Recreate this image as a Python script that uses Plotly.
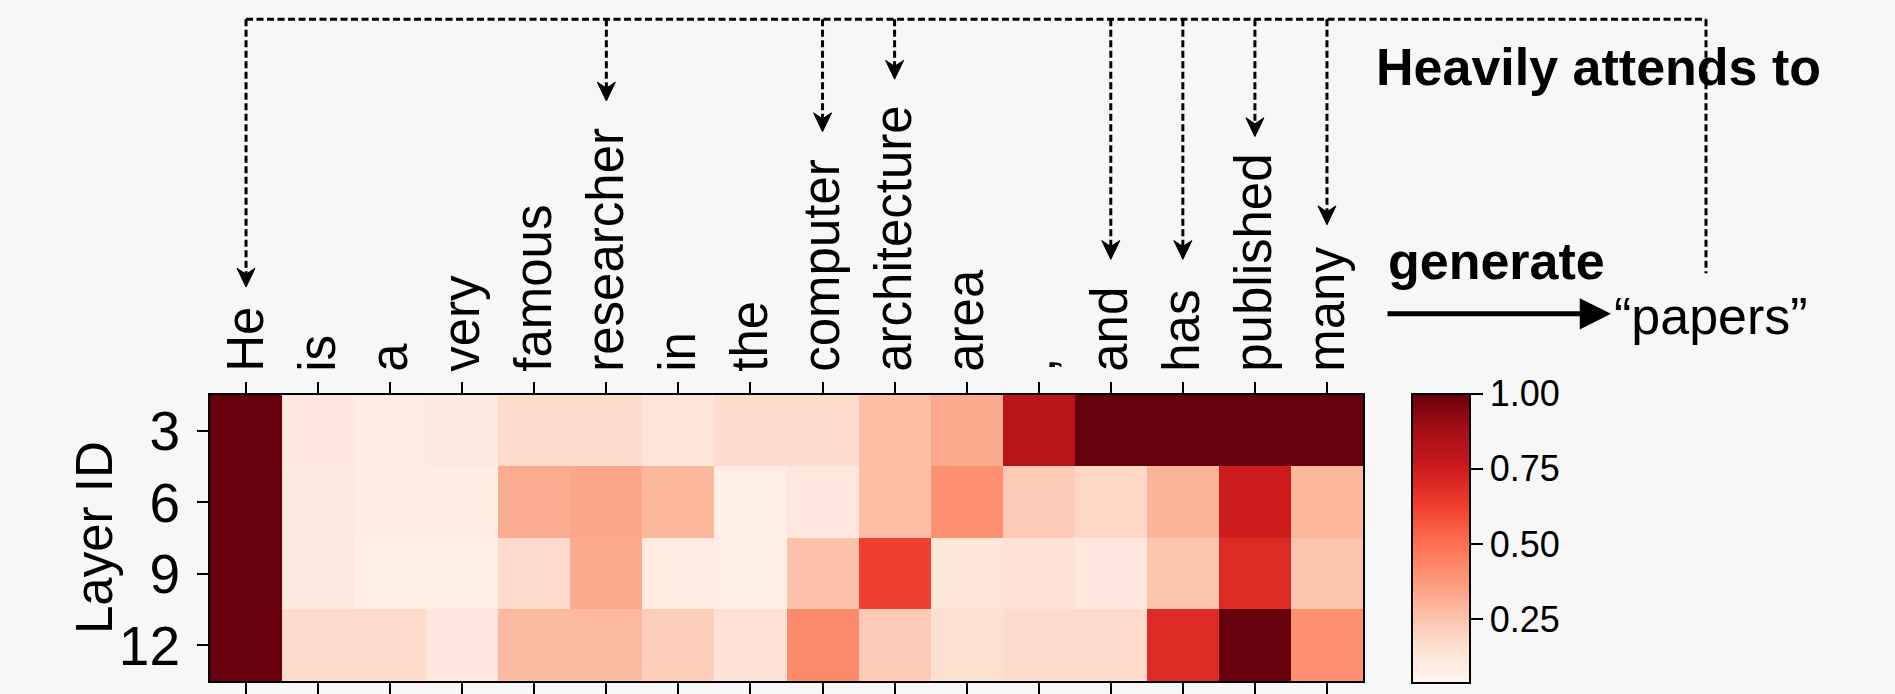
import plotly.graph_objects as go

# Tokens of the prompt, layer ids and the normalised attention each layer pays
tokens = ["He", "is", "a", "very", "famous", "researcher", "in", "the",
          "computer", "architecture", "area", ",", "and", "has", "published", "many"]
layer_ids = ["3", "6", "9", "12"]

attn_layer3 = [1.00, 0.12, 0.10, 0.11, 0.18, 0.17, 0.13, 0.17, 0.17, 0.27, 0.33, 0.82, 1.00, 1.00, 1.00, 1.00]
attn_layer6 = [1.00, 0.11, 0.09, 0.09, 0.32, 0.34, 0.29, 0.08, 0.12, 0.27, 0.41, 0.23, 0.19, 0.30, 0.75, 0.29]
attn_layer9 = [1.00, 0.11, 0.08, 0.08, 0.18, 0.33, 0.10, 0.08, 0.26, 0.63, 0.13, 0.15, 0.12, 0.25, 0.70, 0.25]
attn_layer12 = [1.00, 0.18, 0.18, 0.12, 0.28, 0.28, 0.22, 0.15, 0.42, 0.23, 0.16, 0.18, 0.18, 0.70, 1.00, 0.41]

# Tokens the generated word "papers" heavily attends to
attended = ["He", "researcher", "computer", "architecture", "and", "has", "published", "many"]

cbar_ticks = [0.25, 0.50, 0.75, 1.00]
cbar_ticktext = ["0.25", "0.50", "0.75", "1.00"]

# ---------------------------------------------------------------- layout
W, H = 1895, 694
FONT = "Liberation Sans, Arial, Helvetica, sans-serif"
PLOT_L, PLOT_R, PLOT_T, PLOT_B = 210, 1363, 399, 688

# Pixel height of each arrow tip (just above its rotated label)
arrow_tip_px = {"He": 290, "researcher": 102, "computer": 133, "architecture": 80,
                "and": 262, "has": 262, "published": 138, "many": 227}
BRACKET_Y = 19.5
BRACKET_RIGHT = 1706
BRACKET_DROP = 276


def px_x(px):
    return px / W


def px_y(py):
    return 1 - py / H


def col_px(i):
    # centre of column i in pixels, from the x axis domain and range
    return PLOT_L + (i + 0.5) * (PLOT_R - PLOT_L) / len(tokens)


z = [attn_layer3, attn_layer6, attn_layer9, attn_layer12]

fig = go.Figure()
fig.add_trace(go.Heatmap(
    z=z,
    x=list(range(len(tokens))),
    y=list(range(len(layer_ids))),
    colorscale="Reds",
    zmin=0.04,
    zmax=1.0,
    showscale=True,
    colorbar=dict(
        x=px_x(1412), xanchor="left", xref="paper", xpad=0,
        y=px_y((PLOT_T + PLOT_B) / 2), yanchor="middle", yref="paper", ypad=0,
        len=PLOT_B - PLOT_T, lenmode="pixels",
        thickness=58, thicknessmode="pixels",
        outlinewidth=2, outlinecolor="black",
        tickvals=cbar_ticks, ticktext=cbar_ticktext,
        ticks="outside", ticklen=12, tickwidth=2, tickcolor="black",
        tickfont=dict(family=FONT, size=36, color="black"),
    ),
    hoverongaps=False,
))

shapes = []
annotations = []

# dashed bracket across the top, down to the right-hand side
dash_line = dict(color="black", width=3, dash="7px,3.5px")
x_first = col_px(tokens.index(attended[0]))
shapes.append(dict(type="line", xref="paper", yref="paper",
                   x0=px_x(x_first), x1=px_x(BRACKET_RIGHT),
                   y0=px_y(BRACKET_Y), y1=px_y(BRACKET_Y), line=dash_line))
shapes.append(dict(type="line", xref="paper", yref="paper",
                   x0=px_x(BRACKET_RIGHT), x1=px_x(BRACKET_RIGHT),
                   y0=px_y(BRACKET_Y), y1=px_y(BRACKET_DROP), line=dash_line))

# dashed arrows from the bracket down to each attended token
HEAD_LEN, HEAD_HALF, NOTCH = 19, 9, 13
for tok in attended:
    cx = col_px(tokens.index(tok))
    tip = arrow_tip_px[tok]
    shapes.append(dict(type="line", xref="paper", yref="paper",
                       x0=px_x(cx), x1=px_x(cx),
                       y0=px_y(BRACKET_Y), y1=px_y(tip - NOTCH), line=dash_line))
    path = (f"M {px_x(cx)},{px_y(tip)} "
            f"L {px_x(cx - HEAD_HALF)},{px_y(tip - HEAD_LEN)} "
            f"L {px_x(cx)},{px_y(tip - NOTCH)} "
            f"L {px_x(cx + HEAD_HALF)},{px_y(tip - HEAD_LEN)} Z")
    shapes.append(dict(type="path", xref="paper", yref="paper", path=path,
                       fillcolor="black", line=dict(color="black", width=1)))

# side annotation: generation of the next word
annotations.append(dict(text="<b>Heavily attends to</b>", xref="paper", yref="paper",
                        x=px_x(1374), y=px_y(68), xanchor="left", yanchor="middle",
                        showarrow=False, font=dict(family=FONT, size=52, color="black")))
annotations.append(dict(text="<b>generate</b>", xref="paper", yref="paper",
                        x=px_x(1386), y=px_y(264), xanchor="left", yanchor="middle",
                        showarrow=False, font=dict(family=FONT, size=52, color="black")))
annotations.append(dict(text="\u201cpapers\u201d", xref="paper", yref="paper",
                        x=px_x(1612), y=px_y(319), xanchor="left", yanchor="middle",
                        showarrow=False, font=dict(family=FONT, size=52, color="black")))
annotations.append(dict(text="", xref="paper", yref="paper",
                        x=px_x(1611), y=px_y(317), ax=1386 - 1611, ay=0,
                        axref="pixel", ayref="pixel",
                        showarrow=True, arrowhead=2, arrowsize=1.25, arrowwidth=5,
                        arrowcolor="black"))

# y axis title
annotations.append(dict(text="Layer ID", xref="paper", yref="paper",
                        x=px_x(94), y=px_y((PLOT_T + PLOT_B) / 2),
                        xanchor="center", yanchor="middle", textangle=-90,
                        showarrow=False, font=dict(family=FONT, size=51, color="black")))

fig.update_layout(
    width=W, height=H,
    margin=dict(l=0, r=0, t=0, b=0),
    paper_bgcolor="#f7f7f7",
    plot_bgcolor="#f7f7f7",
    showlegend=False,
    shapes=shapes,
    annotations=annotations,
    xaxis=dict(
        domain=[px_x(PLOT_L), px_x(PLOT_R)],
        range=[-0.5, len(tokens) - 0.5],
        side="top",
        tickmode="array",
        tickvals=list(range(len(tokens))),
        ticktext=tokens,
        tickangle=-90,
        tickfont=dict(family=FONT, size=51, color="black"),
        ticks="outside", ticklen=11, tickwidth=1.5, tickcolor="black",
        ticklabelstandoff=0,
        showline=True, linecolor="black", linewidth=2, mirror="ticks",
        showgrid=False, zeroline=False, fixedrange=True,
    ),
    yaxis=dict(
        domain=[px_y(PLOT_B), px_y(PLOT_T)],
        range=[len(layer_ids) - 0.5, -0.5],
        tickmode="array",
        tickvals=list(range(len(layer_ids))),
        ticktext=layer_ids,
        tickfont=dict(family=FONT, size=55, color="black"),
        ticks="outside", ticklen=11, tickwidth=1.5, tickcolor="black",
        ticklabelstandoff=6,
        showline=True, linecolor="black", linewidth=2, mirror=True,
        showgrid=False, zeroline=False, fixedrange=True,
    ),
)

fig.write_html("out.html")
